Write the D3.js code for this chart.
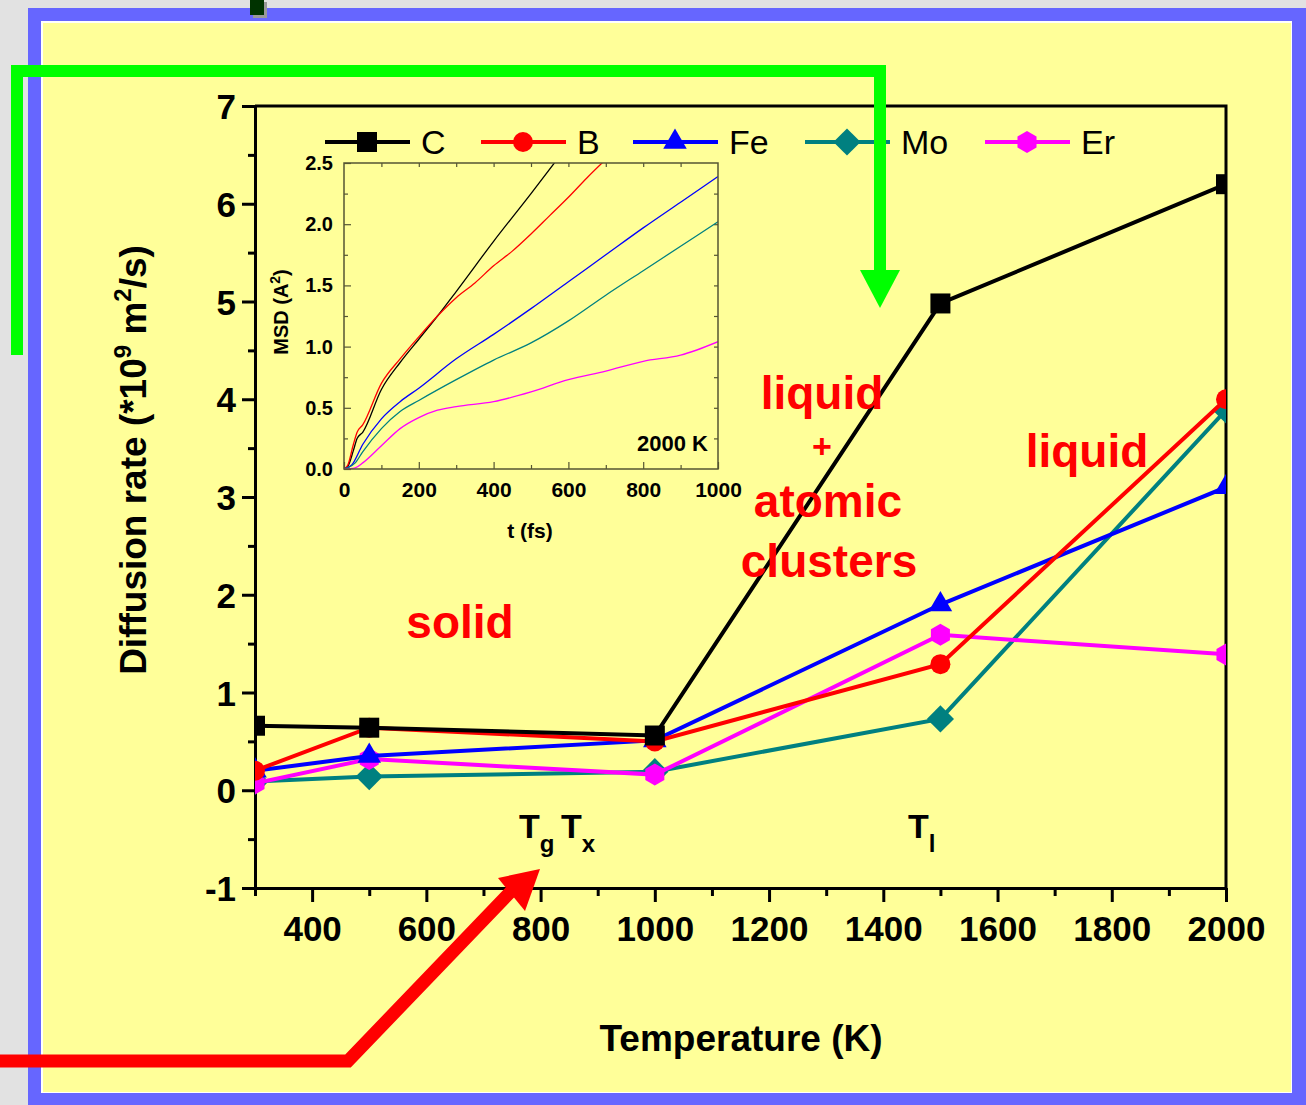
<!DOCTYPE html>
<html>
<head>
<meta charset="utf-8">
<script src="https://cdn.jsdelivr.net/npm/d3@7"></script>
<style>
  body { margin: 0; background: #e4e4e4; }
  svg { display: block; font-family: "Liberation Sans", Arial, sans-serif; }
</style>
</head>
<body>
<div id="main"></div>
<script>
// main chart: diffusion rate vs temperature
const temps = [300, 500, 1000, 1500, 2000];
const rateC = [0.66, 0.64, 0.56, 4.98, 6.2];
const rateB = [0.2, 0.64, 0.5, 1.29, 4.0];
const rateFe = [0.2, 0.35, 0.51, 1.9, 3.1];
const rateMo = [0.09, 0.14, 0.19, 0.73, 3.89];
const rateEr = [0.07, 0.32, 0.16, 1.59, 1.39];
const elements = ['C', 'B', 'Fe', 'Mo', 'Er'];
const xTicks = [400, 600, 800, 1000, 1200, 1400, 1600, 1800, 2000];
const yTicks = [-1, 0, 1, 2, 3, 4, 5, 6, 7];

// inset: MSD vs time at 2000 K
const tC = [0, 10, 25, 35, 50, 100, 150, 200, 250, 300, 400, 500, 570];
const msdC = [0, 0.02, 0.15, 0.25, 0.3, 0.65, 0.87, 1.06, 1.25, 1.45, 1.86, 2.25, 2.53];
const tB = [0, 10, 25, 35, 50, 100, 150, 200, 250, 300, 350, 400, 450, 500, 550, 600, 650, 700];
const msdB = [0, 0.03, 0.2, 0.3, 0.36, 0.7, 0.9, 1.08, 1.25, 1.4, 1.52, 1.66, 1.78, 1.92, 2.07, 2.22, 2.38, 2.53];
const tFe = [0, 20, 50, 100, 150, 200, 300, 400, 500, 600, 700, 800, 900, 1000];
const msdFe = [0, 0.03, 0.2, 0.41, 0.55, 0.66, 0.9, 1.1, 1.31, 1.53, 1.75, 1.97, 2.18, 2.39];
const tMo = [0, 30, 50, 100, 150, 200, 300, 400, 500, 600, 700, 800, 900, 1000];
const msdMo = [0, 0.05, 0.14, 0.33, 0.47, 0.56, 0.73, 0.89, 1.03, 1.21, 1.42, 1.62, 1.82, 2.02];
const tEr = [0, 30, 50, 100, 150, 200, 250, 300, 400, 500, 600, 700, 800, 900, 1000];
const msdEr = [0, 0.01, 0.05, 0.19, 0.33, 0.42, 0.48, 0.51, 0.55, 0.63, 0.73, 0.8, 0.88, 0.93, 1.04];
const insetXTicks = [0, 200, 400, 600, 800, 1000];
const insetYTicks = [0, 0.5, 1.0, 1.5, 2.0, 2.5];

const colors = { C: '#000000', B: '#ff0000', Fe: '#0000ff', Mo: '#008080', Er: '#ff00ff' };
const rates = { C: rateC, B: rateB, Fe: rateFe, Mo: rateMo, Er: rateEr };
const msd = {
  C: [tC, msdC], B: [tB, msdB], Fe: [tFe, msdFe], Mo: [tMo, msdMo], Er: [tEr, msdEr]
};

var W = 1306, H = 1105;
var svg = d3.select('#main').append('svg').attr('width', W).attr('height', H);

// slide background
svg.append('rect').attr('width', W).attr('height', H).attr('fill', '#e2e2e2');
svg.append('rect').attr('x', 28).attr('y', 8).attr('width', 1278).attr('height', 1097).attr('fill', '#6666ff');
svg.append('rect').attr('x', 41).attr('y', 21).attr('width', 1251).attr('height', 1072).attr('fill', '#ffffff');
svg.append('rect').attr('x', 43).attr('y', 23).attr('width', 1248).attr('height', 1069).attr('fill', '#ffff99');
svg.append('rect').attr('x', 253).attr('y', 2).attr('width', 14).attr('height', 16).attr('fill', '#999');
svg.append('rect').attr('x', 250).attr('y', 0).attr('width', 14).attr('height', 15).attr('fill', '#003300');

var x = d3.scaleLinear().domain([300, 2000]).range([255, 1226]);
var y = d3.scaleLinear().domain([-1, 7]).range([888, 106]);

// symbol helper
function marker(name, s) {
  if (name === 'C') return d3.symbol().type(d3.symbolSquare).size(s * s)();
  if (name === 'B') return d3.symbol().type(d3.symbolCircle).size(Math.PI * s * s / 4)();
  if (name === 'Fe') return d3.symbol().type(d3.symbolTriangle).size(s * s * 0.6)();
  if (name === 'Mo') {
    var r = s * 0.68;
    return 'M0,' + (-r) + 'L' + r + ',0L0,' + r + 'L' + (-r) + ',0Z';
  }
  var pts = d3.range(6).map(function (k) {
    var a = Math.PI / 3 * k - Math.PI / 2;
    return [Math.cos(a) * s * 0.55, Math.sin(a) * s * 0.55];
  });
  return 'M' + pts.join('L') + 'Z';
}

var plain = d => String(d).replace('\u2212', '-');

// axes
var gx = svg.append('g').attr('transform', 'translate(0,888)');
gx.call(d3.axisBottom(x).tickValues(d3.range(300, 2000, 200)).tickSize(8).tickFormat('').tickSizeOuter(0));
gx.call(g => g.select('.domain').remove());
var gx2 = svg.append('g').attr('transform', 'translate(0,888)');
gx2.call(d3.axisBottom(x).tickValues(xTicks).tickSize(14).tickPadding(14).tickFormat(plain).tickSizeOuter(0));
gx2.selectAll('text').attr('font-size', 35).attr('font-weight', 'bold').attr('font-family', 'Liberation Sans, Arial');

var gy = svg.append('g').attr('transform', 'translate(255,0)');
gy.call(d3.axisLeft(y).tickValues(d3.range(-0.5, 7, 1)).tickSize(7).tickFormat('').tickSizeOuter(0));
gy.call(g => g.select('.domain').remove());
var gy2 = svg.append('g').attr('transform', 'translate(255,0)');
gy2.call(d3.axisLeft(y).tickValues(yTicks).tickSize(13).tickPadding(6).tickFormat(plain).tickSizeOuter(0));
gy2.selectAll('text').attr('font-size', 35).attr('font-weight', 'bold').attr('font-family', 'Liberation Sans, Arial').attr('dy', '0.36em');

svg.selectAll('.tick line').attr('stroke', '#000').attr('stroke-width', 3);
svg.selectAll('.domain').attr('stroke', '#000').attr('stroke-width', 3);

svg.append('path').attr('d', 'M255,106H1226V888').attr('fill', 'none').attr('stroke', '#000').attr('stroke-width', 3);

svg.append('clipPath').attr('id', 'plotclip').append('rect')
  .attr('x', 255).attr('y', 106).attr('width', 971).attr('height', 782);

var plot = svg.append('g').attr('clip-path', 'url(#plotclip)');
var line = d3.line().x(d => x(d[0])).y(d => y(d[1]));

['Mo', 'Er', 'Fe', 'B', 'C'].forEach(function (el) {
  var pts = temps.map((t, i) => [t, rates[el][i]]);
  plot.append('path').datum(pts).attr('d', line)
    .attr('fill', 'none').attr('stroke', colors[el]).attr('stroke-width', 4);
  plot.selectAll('.m' + el).data(pts).enter().append('path')
    .attr('class', 'm' + el)
    .attr('transform', d => 'translate(' + x(d[0]) + ',' + y(d[1]) + ')')
    .attr('d', marker(el, 20))
    .attr('fill', colors[el]);
});

// legend
var legendX = [325, 481, 633, 805, 985];
elements.forEach(function (el, i) {
  var lg = svg.append('g').attr('transform', 'translate(' + legendX[i] + ',142)');
  lg.append('line').attr('x1', 0).attr('x2', 85).attr('stroke', colors[el]).attr('stroke-width', 4);
  lg.append('path').attr('transform', 'translate(42,0)').attr('d', marker(el, 20)).attr('fill', colors[el]);
  lg.append('text').attr('x', 96).attr('y', 12).attr('font-size', 34).text(el);
});

// axis titles
svg.append('text').attr('x', 741).attr('y', 1051).attr('text-anchor', 'middle')
  .attr('font-size', 37).attr('font-weight', 'bold').text('Temperature (K)');
var yt = svg.append('text').attr('transform', 'translate(146,460) rotate(-90)').attr('text-anchor', 'middle')
  .attr('font-size', 37).attr('font-weight', 'bold');
yt.append('tspan').text('Diffusion rate (*10');
yt.append('tspan').attr('font-size', 24).attr('dy', -15).text('9');
yt.append('tspan').attr('dy', 15).text(' m');
yt.append('tspan').attr('font-size', 24).attr('dy', -15).text('2');
yt.append('tspan').attr('dy', 15).text('/s)');

// region labels
function redText(tx, ty, size, s) {
  svg.append('text').attr('x', tx).attr('y', ty).attr('text-anchor', 'middle')
    .attr('font-size', size).attr('font-weight', 'bold').attr('fill', '#ff0000').text(s);
}
redText(460, 638, 46, 'solid');
redText(822, 409, 46, 'liquid');
redText(822, 458, 34, '+');
redText(828, 517, 46, 'atomic');
redText(829, 577, 46, 'clusters');
redText(1087, 467, 46, 'liquid');

function tempMark(tx, sub) {
  var t = svg.append('text').attr('x', tx).attr('y', 838).attr('font-size', 34).attr('font-weight', 'bold');
  t.append('tspan').text('T');
  t.append('tspan').attr('font-size', 24).attr('dy', 14).text(sub);
}
tempMark(519, 'g');
tempMark(561, 'x');
tempMark(908, 'l');

// arrows
svg.append('path').attr('d', 'M17,355V71H880V272').attr('fill', 'none')
  .attr('stroke', '#00ff00').attr('stroke-width', 12);
svg.append('path').attr('d', 'M860,270L900,270L880,308Z').attr('fill', '#00ff00');
svg.append('path').attr('d', 'M0,1061H348L520,882').attr('fill', 'none')
  .attr('stroke', '#ff0000').attr('stroke-width', 13);
svg.append('path').attr('d', 'M498,878L540,869L525,911Z').attr('fill', '#ff0000');

// inset
var ix = d3.scaleLinear().domain([0, 1000]).range([344, 718]);
var iy = d3.scaleLinear().domain([0, 2.5]).range([469, 163]);
var frame = '#555533';

svg.append('clipPath').attr('id', 'insetclip').append('rect')
  .attr('x', 344).attr('y', 163).attr('width', 374).attr('height', 306);

function insetAxis(axis, tr) {
  var g = svg.append('g').attr('transform', tr);
  g.call(axis);
  g.select('.domain').remove();
  g.selectAll('.tick line').attr('stroke', frame).attr('stroke-width', 1.2);
  return g;
}
insetAxis(d3.axisBottom(ix).tickValues(d3.range(100, 1000, 200)).tickSize(-4).tickFormat(''), 'translate(0,469)');
insetAxis(d3.axisTop(ix).tickValues(d3.range(100, 1000, 100)).tickSize(-4).tickFormat(''), 'translate(0,163)');
insetAxis(d3.axisLeft(iy).tickValues(d3.range(0.25, 2.5, 0.5)).tickSize(-4).tickFormat(''), 'translate(344,0)');
insetAxis(d3.axisRight(iy).tickValues(d3.range(0.25, 2.5, 0.25)).tickSize(-4).tickFormat(''), 'translate(718,0)');
var ibx = insetAxis(d3.axisBottom(ix).tickValues(insetXTicks).tickSize(-7).tickPadding(13).tickFormat(d3.format('d')), 'translate(0,469)');
ibx.selectAll('text').attr('font-size', 21).attr('font-weight', 'bold').attr('font-family', 'Liberation Sans, Arial');
var ily = insetAxis(d3.axisLeft(iy).tickValues(insetYTicks).tickSize(-7).tickPadding(11).tickFormat(d3.format('.1f')), 'translate(344,0)');
ily.selectAll('text').attr('font-size', 20).attr('font-weight', 'bold').attr('font-family', 'Liberation Sans, Arial');

var iline = d3.line().x(d => ix(d[0])).y(d => iy(d[1])).curve(d3.curveMonotoneX);
var ig = svg.append('g').attr('clip-path', 'url(#insetclip)');
['C', 'B', 'Fe', 'Mo', 'Er'].forEach(function (el) {
  var pts = msd[el][0].map((t, i) => [t, msd[el][1][i]]);
  ig.append('path').datum(pts).attr('d', iline)
    .attr('fill', 'none').attr('stroke', colors[el]).attr('stroke-width', 1.3);
});
svg.append('rect').attr('x', 344).attr('y', 163).attr('width', 374).attr('height', 306)
  .attr('fill', 'none').attr('stroke', frame).attr('stroke-width', 1.5);

svg.append('text').attr('x', 708).attr('y', 451).attr('text-anchor', 'end')
  .attr('font-size', 22).attr('font-weight', 'bold').text('2000 K');
svg.append('text').attr('x', 530).attr('y', 538).attr('text-anchor', 'middle')
  .attr('font-size', 21).attr('font-weight', 'bold').text('t (fs)');
var it = svg.append('text').attr('transform', 'translate(288,312) rotate(-90)').attr('text-anchor', 'middle')
  .attr('font-size', 20).attr('font-weight', 'bold');
it.append('tspan').text('MSD (A');
it.append('tspan').attr('font-size', 14).attr('dy', -8).text('2');
it.append('tspan').attr('dy', 8).text(')');
</script>
</body>
</html>
